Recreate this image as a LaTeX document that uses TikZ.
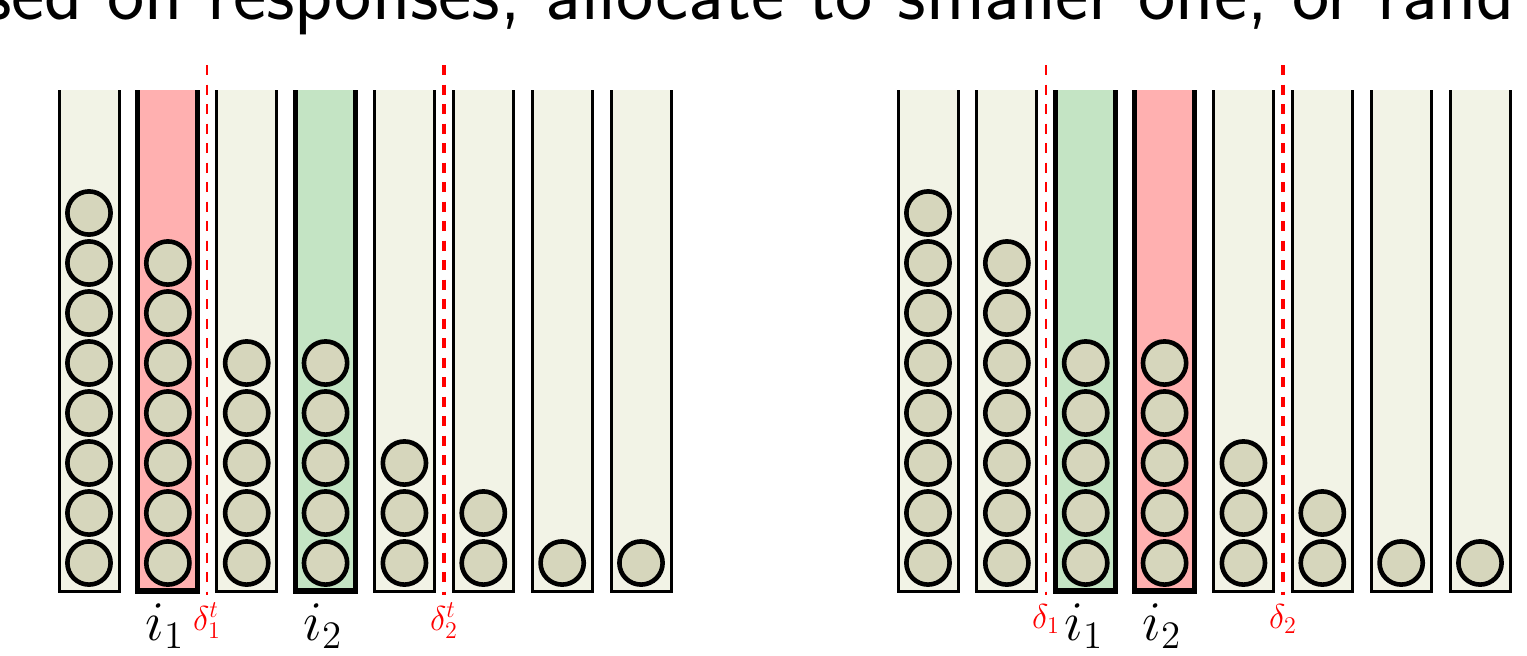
\documentclass[tikz,border=0pt]{standalone}
\usepackage{tikz}
\usetikzlibrary{positioning}
\definecolor{tubefill}{RGB}{242,243,230}
\definecolor{ballfill}{RGB}{214,214,188}
\definecolor{hotred}{RGB}{255,176,176}
\definecolor{coolgreen}{RGB}{196,228,196}

\begin{document}
\begin{tikzpicture}[x=0.5pt, y=-0.5pt,
    ball/.style={draw=black, fill=ballfill, line width=2.3pt},
    cut/.style={red, line width=1.4pt, dash pattern=on 5pt off 4.75pt},
    cutthick/.style={cut, line width=2pt},
    idx/.style={anchor=base, font=\huge, scale=1.35},
    cutlbl/.style={anchor=base, text=red, font=\LARGE}]
    \useasboundingbox (0,0) rectangle (1527,655);
    \node[anchor=base west, inner sep=0pt, font=\sffamily\fontsize{39.5}{39.5}\selectfont] (title) at (-17,19) {sed on responses, allocate to smaller one, or rand};
    \foreach \xs/\hot/\cool in {59/2/4, 898/4/3}{
        \foreach \n [count=\k] in {8,7,5,5,3,2,1,1}{
            \pgfmathsetmacro{\xl}{\xs+78.86*(\k-1)}
            \def\tubecol{tubefill}\def\tubew{1.5pt}
            \ifnum\k=\hot \def\tubecol{hotred}\def\tubew{2.6pt}\fi
            \ifnum\k=\cool \def\tubecol{coolgreen}\def\tubew{2.6pt}\fi
            \draw[line width=\tubew, fill=\tubecol] (\xl,90) -- (\xl,591) -- ({\xl+60},591) -- ({\xl+60},90);
            \foreach \j in {1,...,\n}
                \draw[ball] ({\xl+30},{613-50*\j}) circle[radius=10.8pt];
        }
    }
    \coordinate (c1Ltop) at (207,65);  \coordinate (c1Lbot) at (207,595);
    \coordinate (c2Ltop) at (444,65);  \coordinate (c2Lbot) at (444,595);
    \coordinate (c1Rtop) at (1046,65); \coordinate (c1Rbot) at (1046,595);
    \coordinate (c2Rtop) at (1283,65); \coordinate (c2Rbot) at (1283,595);
    \draw[cut] (c1Ltop) -- (c1Lbot);
    \draw[cutthick] (c2Ltop) -- (c2Lbot);
    \draw[cut] (c1Rtop) -- (c1Rbot);
    \draw[cutthick] (c2Rtop) -- (c2Rbot);
    \node[idx] (i1L) at (165,640) {$i_1$};
    \node[idx] (i2L) at (323,640) {$i_2$};
    \node[cutlbl] (d1L) at (207,630) {$\delta_1^t$};
    \node[cutlbl] (d2L) at (444,630) {$\delta_2^t$};
    \node[idx] (i1R) at (1084,640) {$i_1$};
    \node[idx] (i2R) at (1162,640) {$i_2$};
    \node[cutlbl] (d1R) at (1046,628) {$\delta_1$};
    \node[cutlbl] (d2R) at (1283,628) {$\delta_2$};
\end{tikzpicture}
\end{document}
